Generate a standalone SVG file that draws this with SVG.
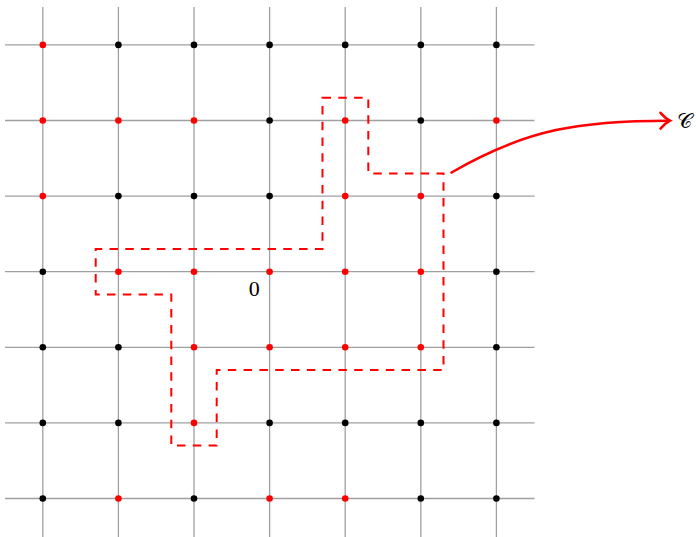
<svg xmlns="http://www.w3.org/2000/svg" width="696" height="537" viewBox="0 0 696 537">
<style>
.grid line{stroke:#a0a0a0;stroke-width:1.3}
.r{fill:#ff0000}
.k{fill:#000000}
circle{r:3.3px}
.path{fill:none;stroke:#ff0000;stroke-width:2;stroke-dasharray:8.5 7.3}
.curve{fill:none;stroke:#ff0000;stroke-width:2.6;stroke-linecap:round}
.lbl{font-family:"Liberation Serif","DejaVu Serif",serif;font-size:22px;fill:#000}
.cal{font-family:"DejaVu Serif","Liberation Serif",serif;font-size:21px;fill:#000}
</style>
<rect width="696" height="537" fill="#fff"/>
<g class="grid" id="grid">
<line x1="42.8" y1="7" x2="42.8" y2="537"/>
<line x1="118.4" y1="7" x2="118.4" y2="537"/>
<line x1="194" y1="7" x2="194" y2="537"/>
<line x1="269.6" y1="7" x2="269.6" y2="537"/>
<line x1="345.2" y1="7" x2="345.2" y2="537"/>
<line x1="420.8" y1="7" x2="420.8" y2="537"/>
<line x1="496.4" y1="7" x2="496.4" y2="537"/>
<line x1="5" y1="44.9" x2="534.5" y2="44.9"/>
<line x1="5" y1="120.5" x2="534.5" y2="120.5"/>
<line x1="5" y1="196.1" x2="534.5" y2="196.1"/>
<line x1="5" y1="271.7" x2="534.5" y2="271.7"/>
<line x1="5" y1="347.3" x2="534.5" y2="347.3"/>
<line x1="5" y1="422.9" x2="534.5" y2="422.9"/>
<line x1="5" y1="498.5" x2="534.5" y2="498.5"/>
</g>
<g id="dots">
<circle class="r" cx="42.8" cy="44.9" r="3.3"/>
<circle class="k" cx="118.4" cy="44.9" r="3.1"/>
<circle class="k" cx="194" cy="44.9" r="3.1"/>
<circle class="k" cx="269.6" cy="44.9" r="3.1"/>
<circle class="k" cx="345.2" cy="44.9" r="3.1"/>
<circle class="k" cx="420.8" cy="44.9" r="3.1"/>
<circle class="k" cx="496.4" cy="44.9" r="3.1"/>

<circle class="r" cx="42.8" cy="120.5" r="3.3"/>
<circle class="r" cx="118.4" cy="120.5" r="3.3"/>
<circle class="r" cx="194" cy="120.5" r="3.3"/>
<circle class="k" cx="269.6" cy="120.5" r="3.1"/>
<circle class="r" cx="345.2" cy="120.5" r="3.3"/>
<circle class="k" cx="420.8" cy="120.5" r="3.1"/>
<circle class="r" cx="496.4" cy="120.5" r="3.3"/>

<circle class="r" cx="42.8" cy="196.1" r="3.3"/>
<circle class="k" cx="118.4" cy="196.1" r="3.1"/>
<circle class="k" cx="194" cy="196.1" r="3.1"/>
<circle class="k" cx="269.6" cy="196.1" r="3.1"/>
<circle class="r" cx="345.2" cy="196.1" r="3.3"/>
<circle class="r" cx="420.8" cy="196.1" r="3.3"/>
<circle class="k" cx="496.4" cy="196.1" r="3.1"/>

<circle class="k" cx="42.8" cy="271.7" r="3.1"/>
<circle class="r" cx="118.4" cy="271.7" r="3.3"/>
<circle class="r" cx="194" cy="271.7" r="3.3"/>
<circle class="r" cx="269.6" cy="271.7" r="3.3"/>
<circle class="r" cx="345.2" cy="271.7" r="3.3"/>
<circle class="r" cx="420.8" cy="271.7" r="3.3"/>
<circle class="k" cx="496.4" cy="271.7" r="3.1"/>

<circle class="k" cx="42.8" cy="347.3" r="3.1"/>
<circle class="k" cx="118.4" cy="347.3" r="3.1"/>
<circle class="r" cx="194" cy="347.3" r="3.3"/>
<circle class="r" cx="269.6" cy="347.3" r="3.3"/>
<circle class="r" cx="345.2" cy="347.3" r="3.3"/>
<circle class="r" cx="420.8" cy="347.3" r="3.3"/>
<circle class="k" cx="496.4" cy="347.3" r="3.1"/>

<circle class="k" cx="42.8" cy="422.9" r="3.1"/>
<circle class="k" cx="118.4" cy="422.9" r="3.1"/>
<circle class="r" cx="194" cy="422.9" r="3.3"/>
<circle class="k" cx="269.6" cy="422.9" r="3.1"/>
<circle class="k" cx="345.2" cy="422.9" r="3.1"/>
<circle class="k" cx="420.8" cy="422.9" r="3.1"/>
<circle class="k" cx="496.4" cy="422.9" r="3.1"/>

<circle class="k" cx="42.8" cy="498.5" r="3.1"/>
<circle class="r" cx="118.4" cy="498.5" r="3.3"/>
<circle class="k" cx="194" cy="498.5" r="3.1"/>
<circle class="r" cx="269.6" cy="498.5" r="3.3"/>
<circle class="r" cx="345.2" cy="498.5" r="3.3"/>
<circle class="k" cx="420.8" cy="498.5" r="3.1"/>
<circle class="k" cx="496.4" cy="498.5" r="3.1"/>
</g>
<g id="contour">
<path class="path" d="M322.5,97.8 H368.3 V173.4 H443.5 V370 H216.7 V445.6 H171.3 V294.4 H95.7 V249 H322.5 Z"/>
</g>
<g id="connectors">
<path class="curve" d="M451.5,172.5 C527,128.5 582,120.7 669,120.7"/>
<path class="curve" d="M660.5,112.8 Q665.5,118.5 670,120.7 Q665.5,123 660.5,128.6"/>
</g>
<g id="label-origin"><text class="lbl" x="254.3" y="295.5" text-anchor="middle">0</text></g>
<g id="label-C"><text class="cal" x="677" y="128">𝒞</text></g>
</svg>
